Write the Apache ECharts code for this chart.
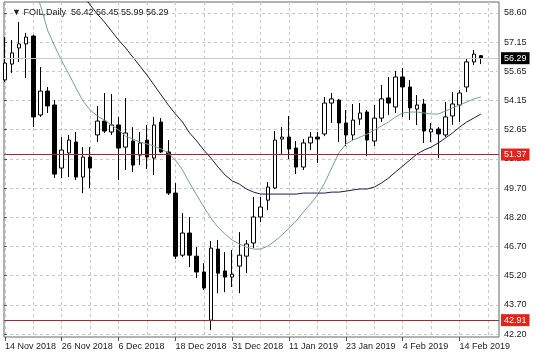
<!DOCTYPE html>
<html><head><meta charset="utf-8">
<script src="https://cdn.jsdelivr.net/npm/echarts@6/dist/echarts.min.js"></script>
<style>html,body{margin:0;padding:0;background:#fff}#c{width:536px;height:358px}</style>
</head><body><div id="c"></div>
<script>
// ---- data ----
const symbolName = 'FOIL';
const timeframe = 'Daily';
const dates = [
 '14 Nov 2018','15 Nov 2018','16 Nov 2018','19 Nov 2018','20 Nov 2018','21 Nov 2018','22 Nov 2018','23 Nov 2018',
 '26 Nov 2018','27 Nov 2018','28 Nov 2018','29 Nov 2018','30 Nov 2018','3 Dec 2018','4 Dec 2018','5 Dec 2018',
 '6 Dec 2018','7 Dec 2018','10 Dec 2018','11 Dec 2018','12 Dec 2018','13 Dec 2018','14 Dec 2018','17 Dec 2018',
 '18 Dec 2018','19 Dec 2018','20 Dec 2018','21 Dec 2018','24 Dec 2018','26 Dec 2018','27 Dec 2018','28 Dec 2018',
 '31 Dec 2018','2 Jan 2019','3 Jan 2019','4 Jan 2019','7 Jan 2019','8 Jan 2019','9 Jan 2019','10 Jan 2019',
 '11 Jan 2019','14 Jan 2019','15 Jan 2019','16 Jan 2019','17 Jan 2019','18 Jan 2019','21 Jan 2019','22 Jan 2019',
 '23 Jan 2019','24 Jan 2019','25 Jan 2019','28 Jan 2019','29 Jan 2019','30 Jan 2019','31 Jan 2019','1 Feb 2019',
 '4 Feb 2019','5 Feb 2019','6 Feb 2019','7 Feb 2019','8 Feb 2019','11 Feb 2019','12 Feb 2019','13 Feb 2019',
 '14 Feb 2019','15 Feb 2019','18 Feb 2019','19 Feb 2019'
];
const opens = [
 55.18,55.99,56.81,57.02,57.42,53.39,54.61,53.90,50.68,51.45,52.01,50.22,51.24,52.37,53.08,52.52,
 52.88,51.75,52.06,51.34,52.11,51.19,53.03,51.50,49.40,46.23,47.36,46.18,45.37,42.91,46.54,45.42,
 45.11,45.67,46.18,46.85,48.18,49.04,49.66,52.16,52.26,51.70,50.73,51.96,52.26,52.42,54.00,54.15,
 52.98,52.37,53.18,53.54,52.06,53.23,54.26,53.80,55.33,54.82,53.69,53.95,52.52,52.67,52.37,53.34,
 53.90,54.82,56.10,56.42
];
const highs = [
 57.37,57.22,58.14,57.58,57.48,55.84,54.82,54.15,52.26,52.37,52.52,51.75,51.75,53.85,54.51,54.46,
 53.29,54.26,52.77,52.52,52.88,53.29,53.23,52.11,49.91,48.38,48.18,46.64,45.82,46.95,47.00,46.39,
 46.49,47.41,47.00,49.20,49.20,49.96,52.57,52.77,53.34,52.06,52.16,52.52,52.52,54.31,54.51,54.21,
 53.64,53.95,54.00,53.64,53.90,54.92,55.33,55.64,55.79,55.18,54.41,54.21,52.98,52.77,54.05,54.56,
 54.67,56.30,56.71,56.45
];
const lows = [
 55.07,55.53,56.10,55.28,52.77,53.29,53.49,50.17,50.17,50.22,50.07,49.40,49.66,52.01,52.47,52.37,
 50.07,50.58,50.48,50.83,50.63,50.32,51.45,49.30,46.03,46.13,45.62,45.06,44.45,42.40,44.29,44.34,
 44.60,44.29,45.31,46.59,47.92,48.53,49.60,51.34,51.14,50.37,50.58,51.60,50.94,52.31,52.98,52.01,
 51.80,52.11,52.88,51.29,51.80,53.03,53.39,53.49,53.29,53.13,52.88,51.96,52.01,51.19,52.26,52.88,
 53.03,54.56,55.94,55.99
];
const closes = [
 56.04,56.56,57.02,57.37,53.29,54.61,53.85,50.37,51.60,52.11,50.22,51.24,50.68,53.08,52.57,52.88,
 51.70,52.47,50.83,51.96,51.24,52.88,51.50,49.40,46.18,47.36,46.23,45.37,44.55,46.59,45.31,45.11,
 45.26,46.23,46.80,48.18,48.69,49.71,52.11,52.26,51.65,50.73,51.96,52.26,52.16,54.00,54.21,52.98,
 52.37,53.13,53.49,52.11,53.23,54.21,54.00,55.33,54.82,53.75,53.90,52.57,52.67,52.42,53.29,53.95,
 54.51,56.10,56.50,56.29
];
const fastMA = [
 null,null,null,60.70,59.88,59.01,57.73,56.91,56.15,55.48,54.77,54.10,53.64,53.34,53.13,52.88,
 52.62,52.31,52.16,52.01,51.91,51.80,51.65,51.45,51.09,50.58,49.91,49.30,48.69,48.12,47.66,47.31,
 47.00,46.80,46.64,46.54,46.54,46.69,46.95,47.26,47.61,47.97,48.43,48.84,49.30,49.91,50.68,51.45,
 51.91,52.11,52.26,52.42,52.62,52.83,53.03,53.29,53.49,53.54,53.54,53.49,53.44,53.44,53.59,53.75,
 53.90,54.05,54.21,54.31
];
const slowMA = [
 null,null,null,null,null,null,null,null,null,null,null,59.52,59.01,58.55,58.14,57.68,
 57.22,56.81,56.35,55.89,55.43,54.92,54.41,53.90,53.44,53.03,52.47,52.06,51.60,51.19,50.73,50.32,
 50.02,49.86,49.61,49.45,49.35,49.35,49.35,49.35,49.35,49.35,49.40,49.40,49.40,49.40,49.45,49.45,
 49.50,49.56,49.61,49.61,49.71,49.91,50.17,50.48,50.78,51.09,51.39,51.60,51.75,51.96,52.21,52.47,
 52.77,53.03,53.23,53.44
];
const priceTicks = [42.20,43.69,45.18,46.67,48.16,49.65,51.15,52.64,54.13,55.62,57.11,58.60];
const priceTickLabels = ['42.20','43.70','45.20','46.70','48.20','49.70','51.20','52.65','54.15','55.65','57.15','58.60'];
const levelLines = [51.37, 42.91];

// ---- chart ----
const FONT = '"Liberation Sans", Arial, "DejaVu Sans", sans-serif';
const Y_MIN = 42.05, Y_MAX = 59.16;
const padCats = 2;
const cats = dates.concat(new Array(padCats).fill(''));
const ohlc = dates.map((d, i) => [opens[i], closes[i], lows[i], highs[i]]);
const last = dates.length - 1;
const titleText = '\u25BC ' + symbolName + ',' + timeframe + '  ' +
  [opens[last], highs[last], lows[last], closes[last]].map(v => v.toFixed(2)).join(' ');

const chart = echarts.init(document.getElementById('c'), null, {renderer: 'canvas'});
const gridLine = {color: '#c6c6c6', width: 1, type: [3, 3]};

const markData = [
  {yAxis: closes[last], lineStyle: {color: '#c8c8c8', width: 1, type: 'solid'},
   label: {backgroundColor: '#000', color: '#fff'}}
].concat(levelLines.map(v => ({
  yAxis: v, lineStyle: {color: '#9e2a2a', width: 1, type: 'solid'},
  label: {backgroundColor: '#e3231c', color: '#fff'}
})));

chart.setOption({
  animation: false,
  backgroundColor: '#ffffff',
  title: {
    text: titleText, left: 7, top: 3,
    textStyle: {fontSize: 9, fontWeight: 'normal', color: '#222', fontFamily: FONT}
  },
  grid: [
    {left: 4.9, right: 40.9, top: 2, bottom: 21},
    {left: 4, right: 37, top: 2, bottom: 21, show: true, borderColor: '#666', borderWidth: 1, backgroundColor: 'transparent'}
  ],
  xAxis: [
    {
      type: 'category', gridIndex: 0, data: cats, boundaryGap: false,
      axisLine: {show: false},
      axisTick: {show: true, interval: 7, length: 4, lineStyle: {color: '#555'}},
      axisLabel: {interval: 7, align: 'left', margin: 5, fontSize: 9, color: '#222', fontFamily: FONT},
      splitLine: {show: true, interval: 3, lineStyle: gridLine}
    },
    {type: 'value', gridIndex: 1, min: 0, max: 1, show: false}
  ],
  yAxis: [
    {type: 'value', gridIndex: 0, min: Y_MIN, max: Y_MAX, show: false},
    {
      type: 'value', gridIndex: 1, min: Y_MIN, max: Y_MAX, position: 'right',
      axisLine: {show: false},
      axisTick: {show: true, length: 3, customValues: priceTicks, lineStyle: {color: '#555'}},
      axisLabel: {
        customValues: priceTicks, margin: 5, fontSize: 9, color: '#222', fontFamily: FONT,
        formatter: v => {
          const k = priceTicks.findIndex(t => Math.abs(t - v) < 1e-6);
          return k >= 0 ? priceTickLabels[k] : '';
        }
      },
      splitLine: {show: true, lineStyle: gridLine}
    }
  ],
  series: [
    {
      type: 'candlestick', xAxisIndex: 0, yAxisIndex: 0, data: ohlc, barWidth: 4,
      itemStyle: {color: '#ffffff', color0: '#000000', borderColor: '#000000', borderColor0: '#000000', borderWidth: 1}
    },
    {
      type: 'line', xAxisIndex: 0, yAxisIndex: 0, data: fastMA, symbol: 'none',
      lineStyle: {color: '#6fa393', width: 1}, z: 3
    },
    {
      type: 'line', xAxisIndex: 0, yAxisIndex: 0, data: slowMA, symbol: 'none',
      lineStyle: {color: '#1b1b4e', width: 1}, z: 3
    },
    {
      type: 'line', xAxisIndex: 1, yAxisIndex: 1, data: [], symbol: 'none', z: 4,
      markLine: {
        silent: true, symbol: ['none', 'none'], animation: false,
        label: {
          show: true, position: 'end', distance: 2, fontSize: 9, fontFamily: FONT,
          padding: [2, 3, 1, 3], formatter: p => Number(p.value).toFixed(2)
        },
        data: markData
      }
    }
  ]
});
</script>
</body></html>
